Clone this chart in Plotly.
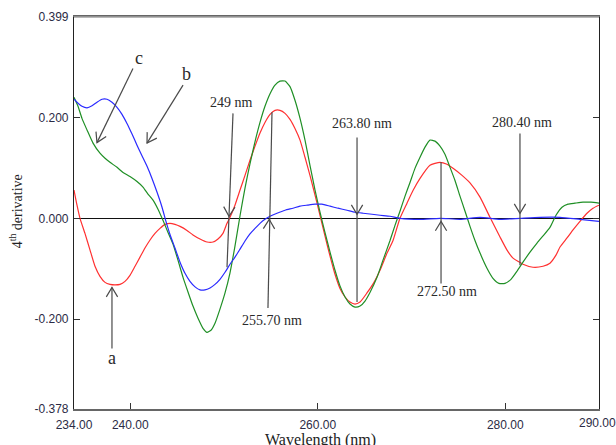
import math
import plotly.graph_objects as go

# ---- spectra: wavelength (nm) and 4th-derivative amplitude ----
wl_a = [234.00, 234.32, 234.64, 235.17, 235.71, 236.24, 236.77, 237.31, 237.84, 238.37,
        238.91, 239.44, 239.97, 240.51, 241.04, 241.57, 242.11, 242.64, 243.17, 243.71,
        244.24, 244.77, 245.31, 246.05, 246.69, 247.44, 248.19, 248.83, 249.36, 249.89,
        250.32, 250.64, 251.17, 251.71, 252.24, 252.77, 253.31, 253.84, 254.37, 254.91,
        255.44, 255.97, 256.51, 257.04, 257.57, 258.11, 258.64, 259.17, 259.71, 260.24,
        260.77, 261.31, 261.84, 262.37, 262.91, 263.44, 263.97, 264.51, 265.25, 266.00,
        266.64, 267.39, 268.03, 268.77, 269.52, 270.16, 270.91, 271.97, 273.04, 273.79,
        274.43, 275.39, 276.24, 277.31, 278.37, 279.44, 280.19, 280.83, 281.89, 282.96,
        284.03, 284.77, 285.41, 285.84, 286.59, 287.23, 287.97, 288.72, 289.36, 290.00]
d4_a = [0.056, 0.026, 0.000, -0.030, -0.063, -0.095, -0.115, -0.127, -0.131, -0.132,
        -0.131, -0.125, -0.113, -0.095, -0.077, -0.059, -0.043, -0.030, -0.020, -0.012,
        -0.010, -0.012, -0.016, -0.024, -0.033, -0.041, -0.047, -0.047, -0.041, -0.030,
        -0.010, 0.002, 0.026, 0.056, 0.085, 0.115, 0.143, 0.169, 0.190, 0.206,
        0.214, 0.214, 0.208, 0.196, 0.178, 0.155, 0.121, 0.085, 0.046, 0.006,
        -0.035, -0.075, -0.111, -0.139, -0.156, -0.166, -0.170, -0.166, -0.148, -0.127,
        -0.103, -0.069, -0.044, 0.000, 0.030, 0.055, 0.079, 0.105, 0.111, 0.107,
        0.099, 0.085, 0.070, 0.042, 0.002, -0.037, -0.063, -0.079, -0.091, -0.097,
        -0.095, -0.089, -0.073, -0.057, -0.039, -0.023, -0.006, 0.010, 0.020, 0.026]

wl_b = [234.00, 234.43, 234.85, 235.39, 235.92, 236.45, 236.99, 237.52, 238.05, 238.59,
        239.12, 239.65, 240.19, 240.72, 241.25, 241.79, 242.32, 242.85, 243.39, 243.81,
        244.24, 244.77, 245.31, 245.84, 246.37, 246.91, 247.44, 247.97, 248.51, 249.04,
        249.57, 250.11, 250.64, 251.17, 251.71, 252.24, 252.77, 253.31, 253.84, 254.37,
        254.91, 255.65, 256.51, 257.36, 258.11, 258.85, 259.71, 260.45, 261.31, 262.16,
        263.12, 263.97, 264.83, 265.79, 266.64, 267.71, 268.77, 270.91, 273.04, 275.17,
        277.31, 279.44, 281.57, 283.71, 285.84, 287.97, 290.00]
d4_b = [0.236, 0.228, 0.222, 0.219, 0.223, 0.230, 0.236, 0.236, 0.230, 0.220,
        0.206, 0.188, 0.167, 0.145, 0.124, 0.103, 0.079, 0.052, 0.022, -0.006,
        -0.032, -0.059, -0.087, -0.109, -0.125, -0.136, -0.142, -0.142, -0.138, -0.131,
        -0.121, -0.107, -0.091, -0.077, -0.061, -0.045, -0.031, -0.020, -0.010, -0.002,
        0.004, 0.010, 0.016, 0.020, 0.024, 0.026, 0.028, 0.028, 0.024, 0.020,
        0.016, 0.012, 0.010, 0.008, 0.006, 0.004, 0.000, -0.002, 0.000, -0.002,
        0.002, -0.002, 0.000, 0.002, 0.002, -0.002, -0.006]

wl_c = [234.00, 234.43, 234.85, 235.39, 236.03, 236.77, 237.31, 237.84, 238.59, 239.23,
        239.97, 240.72, 241.36, 241.89, 242.43, 242.96, 243.49, 244.03, 244.56, 245.09,
        245.63, 246.16, 246.69, 247.23, 247.76, 248.19, 248.61, 249.04, 249.57, 250.11,
        250.64, 251.17, 251.71, 252.24, 252.77, 253.31, 253.84, 254.37, 254.91, 255.44,
        255.97, 256.51, 257.04, 257.57, 258.11, 258.64, 259.17, 259.71, 260.24, 260.77,
        261.31, 261.84, 262.37, 262.91, 263.44, 263.97, 264.51, 265.04, 265.57, 266.32,
        266.96, 267.71, 268.24, 268.77, 269.31, 269.84, 270.37, 270.91, 271.44, 271.97,
        272.51, 273.04, 273.57, 274.11, 274.64, 275.17, 275.71, 276.24, 276.77, 277.31,
        278.05, 278.69, 279.33, 279.97, 280.61, 281.25, 281.89, 282.64, 283.39, 284.03,
        284.77, 285.41, 286.05, 286.69, 287.44, 288.29, 289.15, 290.00]
d4_c = [0.240, 0.222, 0.198, 0.175, 0.149, 0.129, 0.119, 0.111, 0.101, 0.091,
        0.083, 0.073, 0.062, 0.048, 0.036, 0.018, -0.004, -0.028, -0.051, -0.083,
        -0.117, -0.146, -0.174, -0.198, -0.218, -0.226, -0.222, -0.208, -0.180, -0.148,
        -0.108, -0.055, 0.005, 0.060, 0.108, 0.152, 0.190, 0.222, 0.247, 0.264,
        0.272, 0.272, 0.261, 0.234, 0.198, 0.155, 0.105, 0.056, 0.012, -0.028,
        -0.067, -0.103, -0.134, -0.156, -0.170, -0.176, -0.174, -0.164, -0.147, -0.117,
        -0.083, -0.044, -0.014, 0.014, 0.044, 0.071, 0.099, 0.121, 0.141, 0.155,
        0.153, 0.143, 0.127, 0.101, 0.075, 0.044, 0.014, -0.016, -0.044, -0.069,
        -0.099, -0.119, -0.129, -0.129, -0.121, -0.105, -0.087, -0.067, -0.049, -0.035,
        -0.018, 0.006, 0.022, 0.028, 0.030, 0.032, 0.032, 0.030]

# axis ticks (the last x label sits at the frame edge and is written separately)
x_ticks = [234.0, 240.0, 260.0, 280.0]
x_tick_text = ["234.00", "240.00", "260.00", "280.00"]
x_end_label = "290.00"
y_ticks = [0.399, 0.200, 0.000, -0.200, -0.378]
y_tick_text = ["0.399", "0.200", "0.000", "-0.200", "-0.378"]

# callouts: text, label position, shaft start -> end, arrow tip (head points start->end)
callouts = [
    dict(text="c", lx=240.93, ly=0.317, x0=240.29, y0=0.297, x1=236.45, y1=0.150, size=18),
    dict(text="b", lx=246.05, ly=0.287, x0=245.63, y0=0.264, x1=241.79, y1=0.149, size=18),
    dict(text="a", lx=238.05, ly=-0.277, x0=238.05, y0=-0.258, x1=238.05, y1=-0.137, size=18),
    dict(text="249 nm", lx=250.85, ly=0.230, x0=250.96, y0=0.208, x1=250.32, y1=-0.097,
         tx=250.53, ty=0.004, size=14),
    dict(text="255.70 nm", lx=255.12, ly=-0.202, x0=254.69, y0=-0.178, x1=255.12, y1=0.210,
         tx=254.82, ty=-0.002, size=14),
    dict(text="263.80 nm", lx=264.72, ly=0.188, x0=264.19, y0=0.160, x1=264.19, y1=-0.166,
         tx=264.19, ty=0.008, size=14),
    dict(text="272.50 nm", lx=273.79, ly=-0.146, x0=273.15, y0=-0.129, x1=273.15, y1=0.111,
         tx=273.15, ty=-0.006, size=14),
    dict(text="280.40 nm", lx=281.79, ly=0.190, x0=281.57, y0=0.168, x1=281.57, y1=-0.093,
         tx=281.57, ty=0.010, size=14),
]

W, H = 616, 445
MARGIN = dict(l=74, r=17, t=17, b=36)
X_RANGE = [234.0, 290.0]
Y_RANGE = [-0.378, 0.399]
PX_X = (W - MARGIN["l"] - MARGIN["r"]) / (X_RANGE[1] - X_RANGE[0])
PX_Y = (H - MARGIN["t"] - MARGIN["b"]) / (Y_RANGE[1] - Y_RANGE[0])

SERIF = "Liberation Serif, Times New Roman, serif"
SANS = "Liberation Sans, Arial, sans-serif"
TICK_FONT = dict(family=SANS, size=12, color="#2b2b45")
ARROW = "#4a4a4a"

fig = go.Figure()
for wl, d4, col in [(wl_a, d4_a, "#ff3030"), (wl_c, d4_c, "#1f8f25"), (wl_b, d4_b, "#2a2aff")]:
    fig.add_trace(go.Scatter(x=wl, y=d4, mode="lines",
                             line=dict(color=col, width=1.2, shape="spline", smoothing=0.5),
                             showlegend=False, hoverinfo="skip"))


def v_head(tip_x, tip_y, dir_x, dir_y, arm=11.0, half_angle=31.0):
    """Open V arrow head at (tip_x, tip_y) pointing along (dir_x, dir_y) in data units."""
    ux, uy = dir_x * PX_X, -dir_y * PX_Y
    n = math.hypot(ux, uy)
    ux, uy = ux / n, uy / n
    pts = []
    for s in (1, -1):
        a = math.radians(half_angle) * s
        rx = ux * math.cos(a) - uy * math.sin(a)
        ry = ux * math.sin(a) + uy * math.cos(a)
        pts.append((tip_x - arm * rx / PX_X, tip_y + arm * ry / PX_Y))
    return (f"M {pts[0][0]} {pts[0][1]} L {tip_x} {tip_y} L {pts[1][0]} {pts[1][1]}")


shapes = []
annotations = []
for c in callouts:
    shapes.append(dict(type="line", xref="x", yref="y", x0=c["x0"], y0=c["y0"],
                       x1=c["x1"], y1=c["y1"], line=dict(color=ARROW, width=1.2)))
    tx, ty = c.get("tx", c["x1"]), c.get("ty", c["y1"])
    shapes.append(dict(type="path", xref="x", yref="y",
                       path=v_head(tx, ty, c["x1"] - c["x0"], c["y1"] - c["y0"]),
                       line=dict(color=ARROW, width=1.2)))
    annotations.append(dict(x=c["lx"], y=c["ly"], xref="x", yref="y", text=c["text"],
                            showarrow=False, xanchor="center", yanchor="middle",
                            font=dict(family=SERIF, size=c["size"], color="#2a2a2a")))

# lighter top border of the frame
shapes.append(dict(type="line", xref="paper", yref="paper", x0=0, x1=1, y0=1, y1=1,
                   line=dict(color="#a0a0a0", width=1.5), layer="above"))

annotations.append(dict(x=X_RANGE[1], y=0, xref="x", yref="paper", xshift=-2, yshift=-14,
                        text=x_end_label, showarrow=False, xanchor="center",
                        yanchor="middle", font=TICK_FONT))
annotations.append(dict(x=0.469, y=0, xref="paper", yref="paper", yshift=-31,
                        text="Wavelength (nm)", showarrow=False, xanchor="center",
                        yanchor="middle", font=dict(family=SERIF, size=16, color="#222")))
annotations.append(dict(x=-0.11, y=0.505, xref="paper", yref="paper", textangle=-90,
                        text="4<sup>th</sup> derivative", showarrow=False,
                        xanchor="center", yanchor="middle",
                        font=dict(family=SERIF, size=14, color="#222")))

fig.update_layout(
    width=W, height=H, margin=MARGIN,
    paper_bgcolor="white", plot_bgcolor="white",
    shapes=shapes, annotations=annotations,
    xaxis=dict(range=X_RANGE, tickvals=x_ticks, ticktext=x_tick_text,
               ticks="inside", ticklen=6, tickcolor="#333",
               showgrid=False, zeroline=False, showline=True, linecolor="#666",
               linewidth=1.5, mirror=True, ticklabelstandoff=4, automargin=False,
               tickfont=TICK_FONT),
    yaxis=dict(range=Y_RANGE, tickvals=y_ticks, ticktext=y_tick_text,
               ticks="inside", ticklen=6, tickcolor="#333",
               showgrid=False, zeroline=True, zerolinecolor="#111", zerolinewidth=1,
               showline=True, linecolor="#222", linewidth=1.2, mirror="ticks",
               ticklabelstandoff=2, automargin=False,
               tickfont=TICK_FONT),
)

fig.write_html("out.html")
